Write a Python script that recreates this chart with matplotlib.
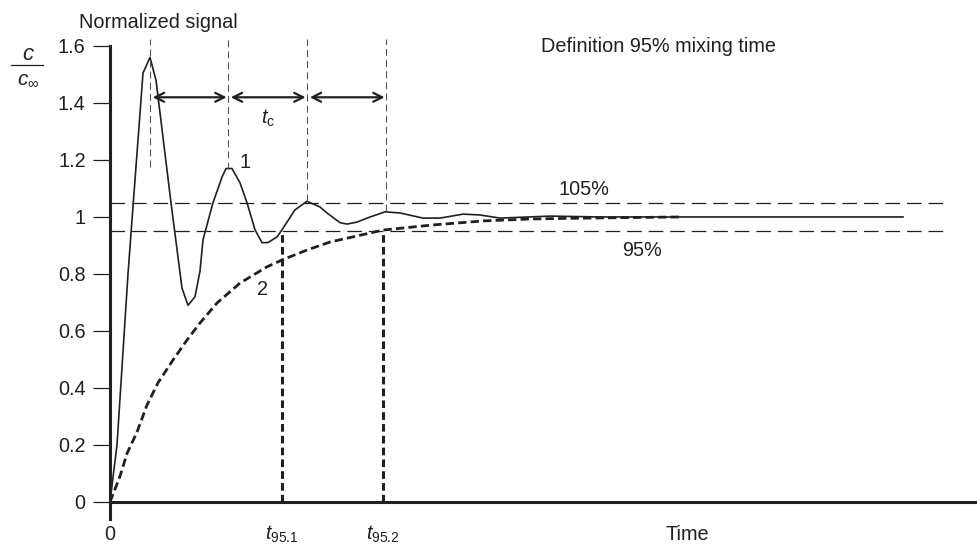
"""
Definition of the 95 % mixing time: normalised tracer signal c/c_inf over time
for an oscillating response (1) and a smooth first-order response (2).
"""

import matplotlib
matplotlib.use("Agg")
import matplotlib.pyplot as plt
from matplotlib.lines import Line2D

# curve 1: oscillating response
t_osc = [0, 0.07, 0.18, 0.233, 0.33, 0.40, 0.46, 0.61, 0.72, 0.78, 0.85, 0.90,
         0.93, 1.03, 1.12, 1.16, 1.22, 1.30, 1.37, 1.45, 1.52, 1.58, 1.67, 1.72,
         1.85, 1.97, 2.10, 2.17, 2.30, 2.37, 2.47, 2.57, 2.75, 2.90, 3.13, 3.30,
         3.53, 3.70, 3.90, 4.40, 4.90, 7.93]
c_osc = [0, 0.20, 0.80, 1.05, 1.505, 1.56, 1.48, 1.05, 0.75, 0.69, 0.72, 0.81,
         0.92, 1.05, 1.14, 1.17, 1.17, 1.12, 1.05, 0.955, 0.91, 0.91, 0.93, 0.955,
         1.025, 1.055, 1.035, 1.014, 0.98, 0.975, 0.982, 0.996, 1.018, 1.014, 0.996, 0.996,
         1.01, 1.007, 0.996, 1.003, 1.0, 1.0]

# curve 2: smooth approach
t_smooth = [0, 0.10, 0.17, 0.27, 0.37, 0.48, 0.63, 0.77, 0.90, 1.07, 1.30,
            1.57, 1.72, 1.97, 2.20, 2.73, 3.23, 3.73, 4.20, 4.75, 5.70]
c_smooth = [0, 0.09, 0.17, 0.245, 0.34, 0.418, 0.498, 0.568, 0.628, 0.698, 0.768,
            0.825, 0.849, 0.884, 0.912, 0.954, 0.972, 0.986, 0.993, 0.996, 1.0]

peak_times = [0.40, 1.18, 1.97, 2.76]
peak_line_bottom = [1.175, 1.17, 1.055, 1.02]
t95_times = [1.72, 2.73]
t95_labels = [r"$t_{95.1}$", r"$t_{95.2}$"]
band_levels = [1.05, 0.95]
band_labels = ["105%", "95%"]
y_ticks = [0, 0.2, 0.4, 0.6, 0.8, 1.0, 1.2, 1.4, 1.6]
y_tick_labels = ["0", "0.2", "0.4", "0.6", "0.8", "1", "1.2", "1.4", "1.6"]

ink = "#231f20"
fs = 14.3

plt.rcParams["font.family"] = "Liberation Sans"
plt.rcParams["mathtext.fontset"] = "custom"
plt.rcParams["mathtext.rm"] = "Liberation Sans"
plt.rcParams["mathtext.it"] = "Liberation Sans:italic"
plt.rcParams["lines.scale_dashes"] = False
plt.rcParams["text.color"] = ink

fig = plt.figure(figsize=(9.78, 5.46), dpi=100)
ax = fig.add_axes([110 / 978, 27 / 546, 868 / 978, 473 / 546])
ax.set_xlim(0, 8.68)
ax.set_ylim(-0.06, 1.6)

# tolerance band
for level in band_levels:
    ax.plot([0, 8.37], [level, level], color=ink, lw=0.9, dashes=(10.5, 5))
ax.text(4.74, 1.097, band_labels[0], fontsize=fs, ha="center", va="center")
ax.text(5.32, 0.882, band_labels[1], fontsize=fs, ha="center", va="center")

# response curves
ax.plot(t_osc, c_osc, color=ink, lw=1.2)
ax.plot(t_smooth, c_smooth, color=ink, lw=2.0, dashes=(6, 3))
ax.text(1.35, 1.19, "1", fontsize=fs, ha="center", va="center")
ax.text(1.53, 0.744, "2", fontsize=fs, ha="center", va="center")

# peak markers and period arrows
for t, bottom in zip(peak_times, peak_line_bottom):
    ax.plot([t, t], [bottom, 1.625], color="#555555", lw=0.8, dashes=(5, 3),
            clip_on=False)
for a, b in zip(peak_times[:-1], peak_times[1:]):
    ax.annotate("", xy=(b, 1.42), xytext=(a, 1.42),
                arrowprops=dict(arrowstyle="<->", lw=1.6, color=ink,
                                shrinkA=2, shrinkB=1, mutation_scale=16))
ax.text(1.58, 1.347, r"$t_{\rm c}$", fontsize=fs, ha="center", va="center")

# 95 % mixing times
for t in t95_times:
    ax.plot([t, t], [0, 0.95], color=ink, lw=2.2, dashes=(5.5, 3))

ax.text(4.31, 1.597, "Definition 95% mixing time", fontsize=fs,
        ha="left", va="center")

# axes styling
for side in ("top", "right"):
    ax.spines[side].set_visible(False)
ax.spines["bottom"].set_position(("data", 0))
ax.spines["bottom"].set_linewidth(2.2)
ax.spines["left"].set_linewidth(2.2)
ax.spines["bottom"].set_color(ink)
ax.spines["left"].set_color(ink)

ax.set_yticks(y_ticks)
ax.set_yticklabels(y_tick_labels)
ax.tick_params(axis="y", direction="out", length=12, width=0.9, pad=5.5,
               labelsize=fs, color=ink, labelcolor=ink)

# x labels sit on a common baseline below the time axis
ax.set_xticks([])
x_label_pos = [0] + t95_times + [5.77]
x_label_text = ["0"] + t95_labels + ["Time"]
for t, label in zip(x_label_pos, x_label_text):
    ax.text(t, -0.132, label, fontsize=fs, ha="center", va="baseline",
            clip_on=False)

fig.text(79 / 978, 1 - 22 / 546, "Normalized signal", fontsize=fs,
         ha="left", va="center")
# c / c_inf written as a stacked fraction
fig.text(28 / 978, 1 - 55 / 546, r"$c$", fontsize=16, ha="center", va="center")
fig.add_artist(Line2D([11 / 978, 43 / 978], [1 - 65 / 546, 1 - 65 / 546],
                      color=ink, lw=0.9))
fig.text(28 / 978, 1 - 80 / 546, r"$c_{\infty}$", fontsize=15, ha="center",
         va="center")

fig.savefig("out.png", dpi=100)
plt.close(fig)
